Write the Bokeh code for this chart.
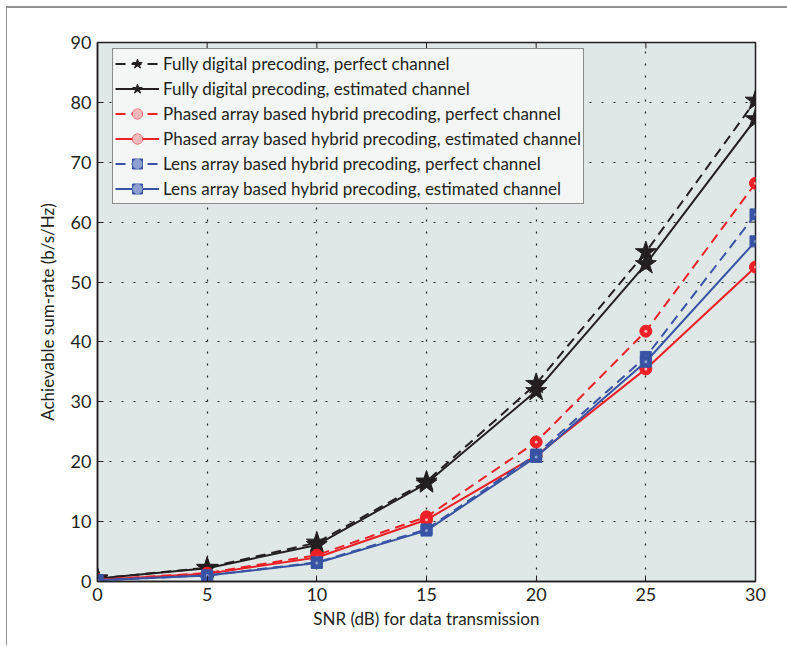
import math
from bokeh.plotting import figure
from bokeh.models import Range1d, Legend, LegendItem, FixedTicker
from bokeh.embed import file_html
from bokeh.resources import INLINE

snr = [0, 5, 10, 15, 20, 25, 30]
fd_perfect = [0.5, 2.3, 6.5, 16.7, 33.0, 55.0, 80.3]
fd_estimated = [0.5, 2.2, 6.1, 16.4, 31.8, 53.0, 77.2]
pa_perfect = [0.3, 1.4, 4.4, 10.8, 23.3, 41.8, 66.5]
pa_estimated = [0.3, 1.3, 4.0, 10.3, 21.0, 35.5, 52.5]
la_perfect = [0.2, 1.0, 3.2, 8.7, 21.2, 37.5, 61.3]
la_estimated = [0.2, 1.0, 3.1, 8.5, 20.8, 36.7, 56.8]
x_ticks = [0, 5, 10, 15, 20, 25, 30]
y_ticks = [0, 10, 20, 30, 40, 50, 60, 70, 80, 90]
labels = [
    "Fully digital precoding, perfect channel",
    "Fully digital precoding, estimated channel",
    "Phased array based hybrid precoding, perfect channel",
    "Phased array based hybrid precoding, estimated channel",
    "Lens array based hybrid precoding, perfect channel",
    "Lens array based hybrid precoding, estimated channel",
]
x_label = "SNR (dB) for data transmission"
y_label = "Achievable sum-rate (b/s/Hz)"

X_MIN, X_MAX = 0, 30
Y_MIN, Y_MAX = 0, 90

BLACK = "#231f20"
RED = "#ec2027"
BLUE = "#3953a4"
FONT = "Lato"
TEXT = "#231f20"

p = figure(width=781, height=639, output_backend="svg", toolbar_location=None,
           x_range=Range1d(X_MIN, X_MAX), y_range=Range1d(Y_MIN, Y_MAX),
           min_border_left=90, min_border_right=33, min_border_top=34, min_border_bottom=66,
           background_fill_color="#dfe8e6", border_fill_color="white")
p.styles = {"margin-left": "6px", "margin-top": "6px",
            "border-top": "2px solid #8f8f8f", "border-left": "1px solid #8f8f8f"}

p.outline_line_color = BLACK
p.outline_line_width = 1.5

for ax in (p.xaxis[0], p.yaxis[0]):
    ax.major_tick_in = 6
    ax.major_tick_out = 0
    ax.minor_tick_line_color = None
    ax.axis_line_color = BLACK
    ax.axis_line_width = 1.5
    ax.major_tick_line_color = BLACK
    ax.major_label_text_font = FONT
    ax.major_label_text_font_size = "18px"
    ax.major_label_text_color = TEXT
    ax.axis_label_text_font = FONT
    ax.axis_label_text_font_size = "17px"
    ax.axis_label_text_font_style = "normal"
    ax.axis_label_text_color = TEXT

p.xaxis[0].ticker = FixedTicker(ticks=x_ticks)
p.yaxis[0].ticker = FixedTicker(ticks=y_ticks)
p.xaxis[0].axis_label = x_label
p.yaxis[0].axis_label = y_label
p.xaxis[0].major_label_standoff = 6
p.xaxis[0].axis_label_standoff = 4
p.yaxis[0].major_label_standoff = 6
p.yaxis[0].axis_label_standoff = 10

# inward ticks on the top and right edges of the box (MATLAB style)
p.ray(x=x_ticks, y=[Y_MAX] * len(x_ticks), length=6, length_units="screen",
      angle=-math.pi / 2, line_color=BLACK, line_width=1)
p.ray(x=[X_MAX] * len(y_ticks), y=y_ticks, length=6, length_units="screen",
      angle=math.pi, line_color=BLACK, line_width=1)

p.xgrid.ticker = FixedTicker(ticks=x_ticks)
p.ygrid.ticker = FixedTicker(ticks=y_ticks)
for g in (p.xgrid[0], p.ygrid[0]):
    g.grid_line_color = "#222222"
    g.grid_line_dash = "2 10"
    g.grid_line_width = 1.2

items = []

def series(y, color, dash, marker, size, label, dot):
    r_line = p.line(snr, y, line_color=color, line_width=2, line_dash=dash)
    r_mk = p.scatter(snr, y, marker=marker, size=size, fill_color=color, line_color=color, line_width=1)
    rs = [r_line, r_mk]
    if dot:
        rs.append(p.scatter(snr, y, marker="circle", size=3,
                            fill_color="#f6b9bb" if color == RED else "#8fa0d0", line_color=None))
    items.append(LegendItem(label=label, renderers=rs))

series(fd_perfect, BLACK, "10 6", "star", 22, labels[0], False)
series(fd_estimated, BLACK, "solid", "star", 22, labels[1], False)
series(pa_perfect, RED, "10 6", "circle", 12, labels[2], True)
series(pa_estimated, RED, "solid", "circle", 12, labels[3], True)
series(la_perfect, BLUE, "10 6", "square", 11, labels[4], True)
series(la_estimated, BLUE, "solid", "square", 11, labels[5], True)

legend = Legend(items=items, location=(15, 377))
legend.padding = 2
legend.spacing = 0
legend.glyph_width = 44
legend.glyph_height = 25
legend.label_height = 25
legend.label_standoff = 4
legend.label_text_font = FONT
legend.label_text_font_size = "17px"
legend.label_text_color = TEXT
legend.background_fill_color = "#f3f6f5"
legend.background_fill_alpha = 1.0
legend.border_line_color = BLACK
legend.border_line_width = 1.5
legend.margin = 0
p.add_layout(legend, "center")

open("out.html", "w").write(file_html(p, INLINE))
